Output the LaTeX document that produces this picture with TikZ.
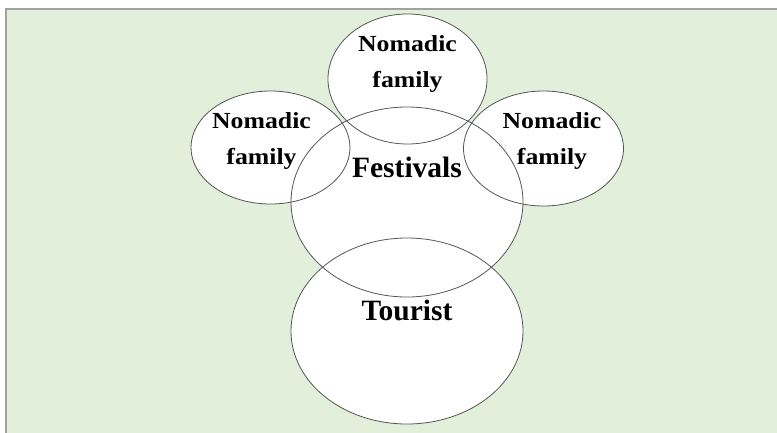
\documentclass[tikz,border=0pt]{standalone}
\usepackage{fontspec}
\setmainfont{Liberation Serif}
\newfontfamily\widserif[FakeStretch=1.12]{Liberation Serif}
\usetikzlibrary{shapes.geometric}
\definecolor{bggreen}{HTML}{E2EFDA}
\definecolor{framegray}{HTML}{A0A0A0}
\definecolor{linegray}{HTML}{555555}
\begin{document}
\begin{tikzpicture}[x=1pt,y=-1pt,
  oval/.style={ellipse,draw=linegray,line width=0.8pt,inner sep=0pt},
  nomad/.style={font=\widserif\bfseries\fontsize{23}{36}\selectfont,align=center,inner sep=0pt,anchor=north},
  big/.style={font=\bfseries\fontsize{29.5}{35}\selectfont,inner sep=0pt,anchor=base}]
\useasboundingbox (0,0) rectangle (777,432);
% background panel
\fill[bggreen] (6,9) rectangle (780,435);
\draw[framegray,line width=1.2pt] (6,435) -- (6,9) -- (780,9);
% white fills first
\fill[white] (407.5,79) ellipse [x radius=79.5,y radius=65];
\fill[white] (270.5,147.5) ellipse [x radius=79.5,y radius=56.5];
\fill[white] (543.5,148.5) ellipse [x radius=80,y radius=57.5];
\fill[white] (407,202) ellipse [x radius=116,y radius=95];
\fill[white] (407,331) ellipse [x radius=116,y radius=93];
% outlines
\node[oval,minimum width=159pt,minimum height=130pt] (top) at (407.5,79) {};
\node[oval,minimum width=159pt,minimum height=113pt] (left) at (270.5,147.5) {};
\node[oval,minimum width=160pt,minimum height=115pt] (right) at (543.5,148.5) {};
\node[oval,minimum width=232pt,minimum height=190pt] (fest) at (407,202) {};
\node[oval,minimum width=232pt,minimum height=186pt] (tour) at (407,331) {};
% texts
\node[nomad] (ttop) at (407.5,35.5) {Nomadic\\family};
\node[nomad] (tleft) at (261.5,112.5) {Nomadic\\family};
\node[nomad] (tright) at (552,112.5) {Nomadic\\family};
\node[big] (tfest) at (407,177) {Festivals};
\node[big] (ttour) at (407,320) {Tourist};
\end{tikzpicture}
\end{document}
